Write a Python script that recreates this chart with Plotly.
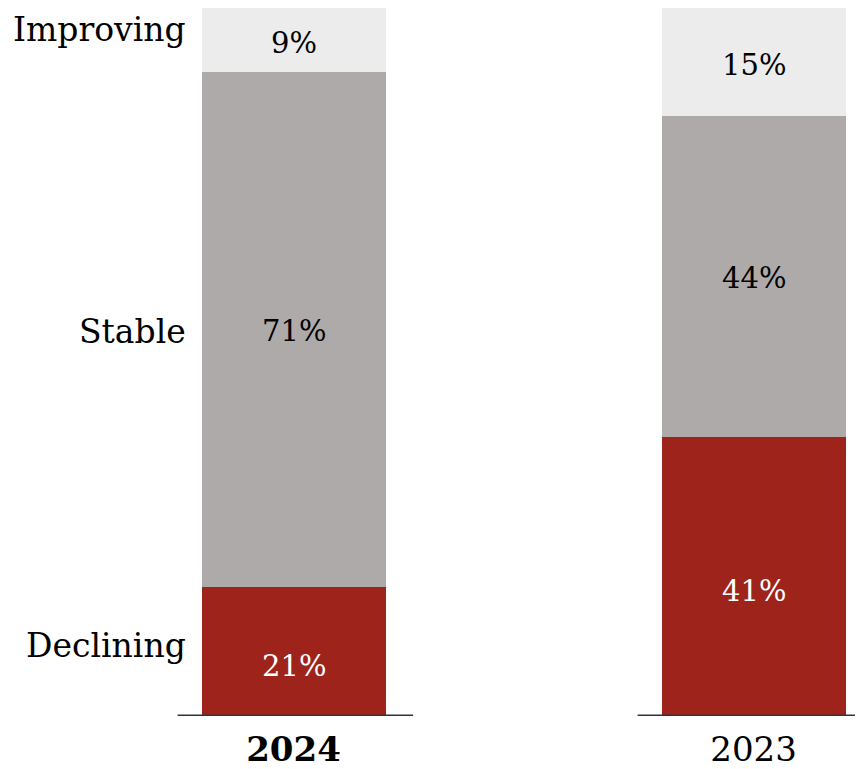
import plotly.graph_objects as go

# dados
anos = ["2024", "2023"]
anos_rotulo = ["<b>2024</b>", "2023"]
categorias = ["Declining", "Stable", "Improving"]

declining = [18.2, 39.4]
stable = [72.8, 45.4]
improving = [9.0, 15.2]

declining_txt = ["21%", "41%"]
stable_txt = ["71%", "44%"]
improving_txt = ["9%", "15%"]

CORES = {"Declining": "#9e231b", "Stable": "#aeaaa9", "Improving": "#ececec"}
COR_TEXTO = {"Declining": "white", "Stable": "black", "Improving": "black"}
FONTE = "Georgia, 'DejaVu Serif', serif"

series = {"Declining": (declining, declining_txt),
          "Stable": (stable, stable_txt),
          "Improving": (improving, improving_txt)}

fig = go.Figure()
for cat in categorias:
    vals, txt = series[cat]
    fig.add_trace(go.Bar(
        x=[0, 1], y=vals, name=cat,
        marker=dict(color=CORES[cat], line=dict(width=0)),
        width=0.4, hoverinfo="skip",
    ))

# rótulos de valor dentro dos segmentos
desloc = {"Declining": -14, "Stable": -2, "Improving": -3}
for i in range(len(anos)):
    base = 0
    for cat in categorias:
        vals, txt = series[cat]
        fig.add_annotation(x=i, y=base + vals[i] / 2, xref="x", yref="y",
                           text=txt[i], showarrow=False, yshift=desloc[cat],
                           font=dict(family=FONTE, size=29, color=COR_TEXTO[cat]))
        base += vals[i]

# linha de base sob cada barra
for i in range(len(anos)):
    fig.add_shape(type="line", xref="x", yref="y", x0=i - 0.252, x1=i + 0.26,
                  y0=0, y1=0, line=dict(color="#333333", width=3))

# rótulos das categorias à esquerda da primeira barra
base = 0
ajuste = {"Declining": 6, "Stable": -2, "Improving": 10}
for cat in categorias:
    v = series[cat][0][0]
    fig.add_annotation(x=0.2105, xref="paper", y=base + v / 2, yref="y",
                       text=cat, showarrow=False, xanchor="right", yanchor="middle",
                       yshift=ajuste[cat],
                       font=dict(family=FONTE, size=33, color="black"))
    base += v

fig.update_layout(
    barmode="stack", showlegend=False, width=855, height=761,
    plot_bgcolor="white", paper_bgcolor="white",
    margin=dict(l=0, r=0, t=0, b=48),
    bargap=0,
    xaxis=dict(range=[-0.6207, 1.238], tickvals=[0, 1], ticktext=anos_rotulo,
               showgrid=False, zeroline=False, showline=False, ticks="",
               ticklabelstandoff=10,
               tickfont=dict(family=FONTE, size=34, color="black")),
    yaxis=dict(range=[0, 100], visible=False, showgrid=False, zeroline=False),
)

fig.write_html("out.html")
